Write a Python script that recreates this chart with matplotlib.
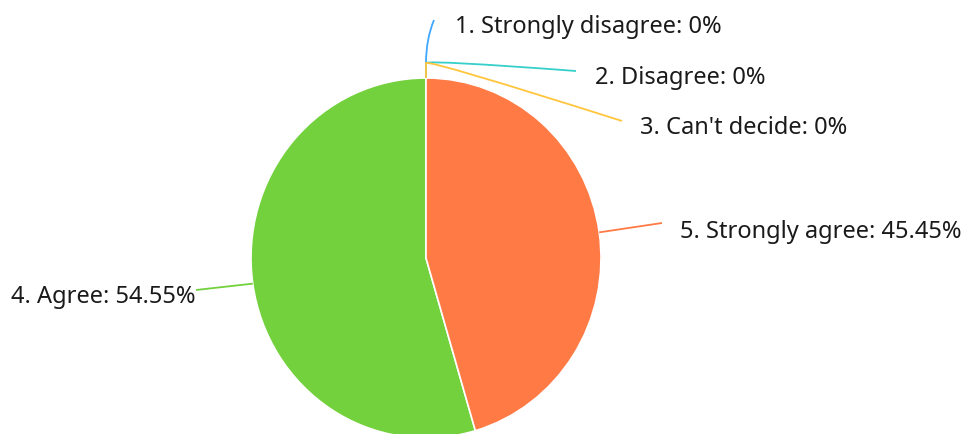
import numpy as np
import matplotlib
matplotlib.use("Agg")
import matplotlib.pyplot as plt
from matplotlib.path import Path
from matplotlib.patches import PathPatch

categories = ["1. Strongly disagree", "2. Disagree", "3. Can't decide", "4. Agree", "5. Strongly agree"]
values = [0.0, 0.0, 0.0, 54.55, 45.45]
colors = ["#40a9ff", "#36cfc9", "#ffc53d", "#73d13d", "#ff7a45"]

W, H = 962, 435
SY = 175 / 180  # slight vertical stretch of the reference
fig = plt.figure(figsize=(W / 100, H / 100), dpi=100)
ax = fig.add_axes([0, 0, 1, 1])
ax.axis("off")

def P(x, y):
    return (x, (H - y) * SY)

cx, cy = P(426, 259)
R = 175
ax.pie([v if v > 0 else 1e-9 for v in values], colors=colors, startangle=90,
       counterclock=True, center=(cx, cy), radius=R,
       wedgeprops=dict(edgecolor="white", linewidth=1.2), frame=False)
ax.set_aspect("auto")
ax.set_xlim(0, W)
ax.set_ylim(0, H * SY)

total = sum(values)
mids = []
acc = 0
for v in values:
    mids.append(np.deg2rad(90 + 360 * (acc + v / 2) / total))
    acc += v

def edge(ang, r=R):
    return (cx + r * np.cos(ang), cy + r * np.sin(ang))

text_pos = [P(455, 27), P(595, 78), P(640, 128), P(196, 297), P(680, 232)]
line_mid = [P(426, 64), P(426, 64), P(426, 64), None, None]
line_end = [P(434, 21), P(576, 72), P(622, 122), P(196, 291), P(662, 224)]
aligns = ["left", "left", "left", "right", "left"]

for i, (cat, v) in enumerate(zip(categories, values)):
    start = edge(mids[i])
    m = line_mid[i]
    e = line_end[i]
    if i == 0:
        verts = [start, m, (m[0], m[1] + 24 * SY), e]
        codes = [Path.MOVETO, Path.LINETO, Path.CURVE3, Path.CURVE3]
    elif i in (1, 2):
        verts = [start, m, (m[0] + 4, m[1] + 3 * SY), e]
        codes = [Path.MOVETO, Path.LINETO, Path.CURVE3, Path.CURVE3]
    else:
        verts = [start, e]
        codes = [Path.MOVETO, Path.LINETO]
    ax.add_patch(PathPatch(Path(verts, codes), fill=False, edgecolor=colors[i], lw=1.3, zorder=3))
    lab = f"{cat}: {v:.2f}%" if v != 0 else f"{cat}: 0%"
    ax.text(text_pos[i][0], text_pos[i][1], lab, ha=aligns[i], va="center",
            fontsize=17, color="#1a1a1a", family="Noto Sans")

fig.savefig("out.png", dpi=100)
